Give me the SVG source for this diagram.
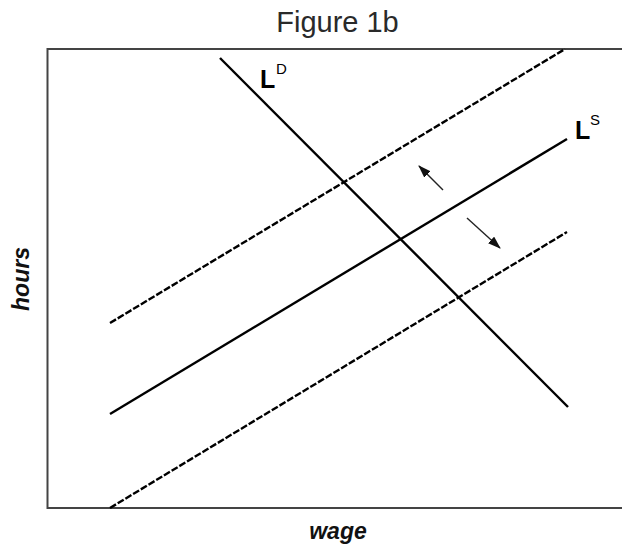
<svg xmlns="http://www.w3.org/2000/svg" width="622" height="546" viewBox="0 0 622 546">
<style>
.t{font-family:"Liberation Sans",Arial,sans-serif;fill:#2a2a2a}
.curve{stroke:#000;stroke-width:2.4;fill:none}
.dash{stroke-dasharray:7 2}
.arr{stroke:#222;stroke-width:1.4;fill:none}
.ax{font-family:"Liberation Sans",Arial,sans-serif;font-weight:bold;font-style:italic;fill:#111}
</style>
<defs>
<marker id="ah" viewBox="0 0 13 9" refX="12" refY="4.5" markerWidth="13" markerHeight="9" markerUnits="userSpaceOnUse" orient="auto">
<path d="M0,0 L13,4.5 L0,9 Z" fill="#111"/>
</marker>
</defs>
<rect width="622" height="546" fill="#fff"/>
<text class="t" x="337.5" y="32" font-size="29" text-anchor="middle">Figure 1b</text>
<g id="frame">
<path d="M622,49 H47.5 V508 H622" fill="none" stroke="#444" stroke-width="2"/>
</g>
<g id="connectors">
<line id="LD" class="curve" x1="220" y1="58" x2="568" y2="407"/>
<line id="LS" class="curve" x1="110" y1="414" x2="567" y2="139"/>
<line id="LS-up" class="curve dash" x1="110" y1="323" x2="565" y2="49"/>
<line id="LS-down" class="curve dash" x1="110" y1="508" x2="567" y2="232"/>
<line class="arr" x1="443" y1="190" x2="419" y2="166" marker-end="url(#ah)"/>
<line class="arr" x1="467" y1="218" x2="500" y2="248" marker-end="url(#ah)"/>
</g>
<g id="label-LD">
<text x="260" y="88" font-family="Liberation Sans,Arial,sans-serif" font-weight="bold" font-size="25" fill="#000">L</text>
<text x="276" y="74" font-family="Liberation Sans,Arial,sans-serif" font-size="15" fill="#000">D</text>
</g>
<g id="label-LS">
<text x="575" y="139" font-family="Liberation Sans,Arial,sans-serif" font-weight="bold" font-size="25" fill="#000">L</text>
<text x="590" y="125" font-family="Liberation Sans,Arial,sans-serif" font-size="15" fill="#000">S</text>
</g>
<text class="ax" x="338" y="539" font-size="23" text-anchor="middle">wage</text>
<text class="ax" transform="translate(29,279) rotate(-90)" font-size="23" text-anchor="middle">hours</text>
</svg>
